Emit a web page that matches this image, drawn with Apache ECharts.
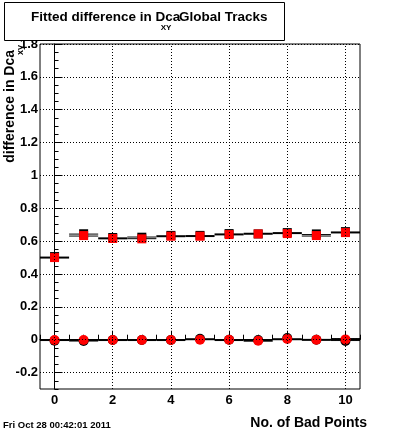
<!DOCTYPE html>
<html>
<head>
<meta charset="utf-8">
<script src="https://cdn.jsdelivr.net/npm/echarts@6/dist/echarts.min.js"></script>
<style>
html,body{margin:0;padding:0;background:#fff;}
#chart{width:400px;height:433px;}
</style>
</head>
<body>
<div id="chart"></div>
<script>
// ---- data ----
const bins = [0, 1, 2, 3, 4, 5, 6, 7, 8, 9, 10];
const xTicks = [0, 2, 4, 6, 8, 10];
const yTicks = [-0.2, 0, 0.2, 0.4, 0.6, 0.8, 1, 1.2, 1.4, 1.6, 1.8];

const redSquares   = [0.500, 0.634, 0.616, 0.614, 0.630, 0.630, 0.640, 0.644, 0.646, 0.634, 0.652];
const blackSquares = [0.506, 0.645, 0.622, 0.624, 0.635, 0.635, 0.646, 0.644, 0.652, 0.644, 0.658];
const squareFitLo  = [0.500, 0.631, 0.617, 0.615, 0.630, 0.631, 0.641, 0.645, 0.649, 0.631, 0.653];
const squareFitHi  = [0.500, 0.643, 0.617, 0.625, 0.630, 0.631, 0.641, 0.645, 0.649, 0.640, 0.653];

const redCircles   = [-0.002, -0.002, -0.002, -0.002, -0.002, 0.000, 0.000, -0.006, 0.004, 0.000, 0.002];
const blackCircles = [-0.006, -0.008, -0.002, -0.002, -0.002, 0.006, 0.000, -0.002, 0.010, 0.000, -0.008];
const circleFitLo  = [-0.002, -0.005, -0.002, -0.002, -0.002, 0.003, -0.002, -0.006, 0.003, -0.001, -0.005];
const circleFitHi  = [-0.002, -0.005, -0.002, -0.002, -0.002, 0.003, -0.002, -0.006, 0.003, -0.001, 0.007];

const titleMain = 'Fitted difference in Dca';
const titleSub = 'XY';
const titleTail = 'Global Tracks';
const yTitle = 'difference in Dca';
const ySub = 'xy';
const xTitle = 'No. of Bad Points';
const dateText = 'Fri Oct 28 00:42:01 2011';

// ---- chart ----
const FONT = '"Liberation Sans", Arial, Helvetica, sans-serif';
const chart = echarts.init(document.getElementById('chart'), null, {renderer: 'canvas'});

function makeSegRenderer(hatch) {
  return function (params, api) {
    const x = api.value(0), lo = api.value(1), hi = api.value(2);
    const a = api.coord([x - 0.5, lo]);
    const b = api.coord([x + 0.5, lo]);
    const c = api.coord([x - 0.5, hi]);
    const children = [];
    if (Math.abs(hi - lo) < 1e-6) {
      children.push({type: 'line', shape: {x1: a[0], y1: a[1], x2: b[0], y2: b[1]},
        style: {stroke: '#000', lineWidth: 2}});
    } else {
      children.push({type: 'line', shape: {x1: a[0], y1: a[1], x2: b[0], y2: b[1]},
        style: {stroke: '#000', lineWidth: 1}});
      children.push({type: 'line', shape: {x1: c[0], y1: c[1], x2: b[0], y2: c[1]},
        style: {stroke: '#000', lineWidth: 1}});
      if (hatch) {
        for (let px = a[0] + 1.5; px < b[0]; px += 3) {
          children.push({type: 'line', shape: {x1: px, y1: a[1], x2: px, y2: c[1]},
            style: {stroke: '#000', lineWidth: 1}});
        }
      }
    }
    return {type: 'group', children: children};
  };
}

const gridMarks = [];
xTicks.forEach(v => gridMarks.push({xAxis: v}));
yTicks.forEach(v => gridMarks.push({yAxis: v}));

const fmtY = v => String(parseFloat(Number(v).toFixed(1)));

const option = {
  animation: false,
  backgroundColor: '#fff',
  grid: {left: 40, right: 40, top: 44, bottom: 44, show: true, borderColor: '#000', borderWidth: 1,
         backgroundColor: 'transparent', containLabel: false, outerBoundsMode: 'none'},
  xAxis: [
    {type: 'value', min: -0.5, max: 10.5, position: 'bottom',
     axisLine: {show: true, lineStyle: {color: '#000', width: 1}},
     axisTick: {show: true, inside: true, length: 9, customValues: xTicks, lineStyle: {color: '#000', width: 1}},
     axisLabel: {show: true, customValues: xTicks, margin: 5, color: '#000', fontSize: 13, fontWeight: 'bold', fontFamily: FONT},
     splitLine: {show: false}},
    {type: 'value', min: -0.5, max: 10.5, interval: 0.5, position: 'bottom',
     axisLine: {show: false},
     axisTick: {show: true, inside: true, length: 5, lineStyle: {color: '#000', width: 1}},
     axisLabel: {show: false}, splitLine: {show: false}}
  ],
  yAxis: [
    {type: 'value', min: -0.3, max: 1.8, position: 'left',
     axisLine: {show: true, lineStyle: {color: '#000', width: 1}},
     axisTick: {show: true, inside: true, length: 8, customValues: yTicks, lineStyle: {color: '#000', width: 1}},
     axisLabel: {show: true, customValues: yTicks, margin: 2, color: '#000', fontSize: 13, fontWeight: 'bold', fontFamily: FONT, formatter: fmtY},
     splitLine: {show: false}},
    {type: 'value', min: -0.3, max: 1.8, interval: 0.05, position: 'left',
     axisLine: {show: false},
     axisTick: {show: true, inside: true, length: 4, lineStyle: {color: '#000', width: 1}},
     axisLabel: {show: false}, splitLine: {show: false}}
  ],
  series: [
    {type: 'scatter', data: [], z: 1, silent: true,
     markLine: {silent: true, symbol: ['none', 'none'], label: {show: false},
       lineStyle: {color: '#000', width: 1, type: [1, 2]}, emphasis: {disabled: true},
       data: gridMarks}},
    {type: 'custom', z: 2, renderItem: makeSegRenderer(false), encode: {x: 0, y: [1, 2]},
     data: bins.map((b, i) => [b, squareFitLo[i], squareFitHi[i]])},
    {type: 'custom', z: 2, renderItem: makeSegRenderer(true), encode: {x: 0, y: [1, 2]},
     data: bins.map((b, i) => [b, circleFitLo[i], circleFitHi[i]])},
    {type: 'scatter', z: 3, symbol: 'rect', symbolSize: 9, itemStyle: {color: '#000', opacity: 1},
     data: bins.map((b, i) => [b, blackSquares[i]])},
    {type: 'scatter', z: 4, symbol: 'rect', symbolSize: 9, itemStyle: {color: '#ff0000', opacity: 1},
     data: bins.map((b, i) => [b, redSquares[i]])},
    {type: 'scatter', z: 3, symbol: 'circle', symbolSize: 10, itemStyle: {color: '#000', opacity: 1},
     data: bins.map((b, i) => [b, blackCircles[i]])},
    {type: 'scatter', z: 4, symbol: 'circle', symbolSize: 10, itemStyle: {color: '#ff0000', opacity: 1},
     data: bins.map((b, i) => [b, redCircles[i]])}
  ],
  graphic: [
    {type: 'rect', left: 4, top: 2, shape: {width: 280, height: 38}, z: 10,
     style: {fill: '#fff', stroke: '#000', lineWidth: 1}},
    {type: 'text', x: 31, y: 17, z: 11,
     style: {text: titleMain, fill: '#000', font: 'bold 13.5px ' + FONT, textAlign: 'left', textVerticalAlign: 'middle'}},
    {type: 'text', x: 166, y: 28, z: 11,
     style: {text: titleSub, fill: '#000', font: 'bold 8px ' + FONT, textAlign: 'center', textVerticalAlign: 'middle'}},
    {type: 'text', x: 179, y: 17, z: 11,
     style: {text: titleTail, fill: '#000', font: 'bold 13.5px ' + FONT, textAlign: 'left', textVerticalAlign: 'middle'}},
    {type: 'text', x: 10, y: 50, rotation: Math.PI / 2, z: 11,
     style: {text: yTitle, fill: '#000', font: 'bold 14px ' + FONT, textAlign: 'right', textVerticalAlign: 'middle'}},
    {type: 'text', x: 21, y: 50, rotation: Math.PI / 2, z: 11,
     style: {text: ySub, fill: '#000', font: 'bold 9px ' + FONT, textAlign: 'center', textVerticalAlign: 'middle'}},
    {type: 'text', x: 367, y: 423, z: 11,
     style: {text: xTitle, fill: '#000', font: 'bold 14px ' + FONT, textAlign: 'right', textVerticalAlign: 'middle'}},
    {type: 'text', x: 3, y: 425, z: 11,
     style: {text: dateText, fill: '#000', font: 'bold 9.5px ' + FONT, textAlign: 'left', textVerticalAlign: 'middle'}}
  ]
};
chart.setOption(option);
</script>
</body>
</html>
